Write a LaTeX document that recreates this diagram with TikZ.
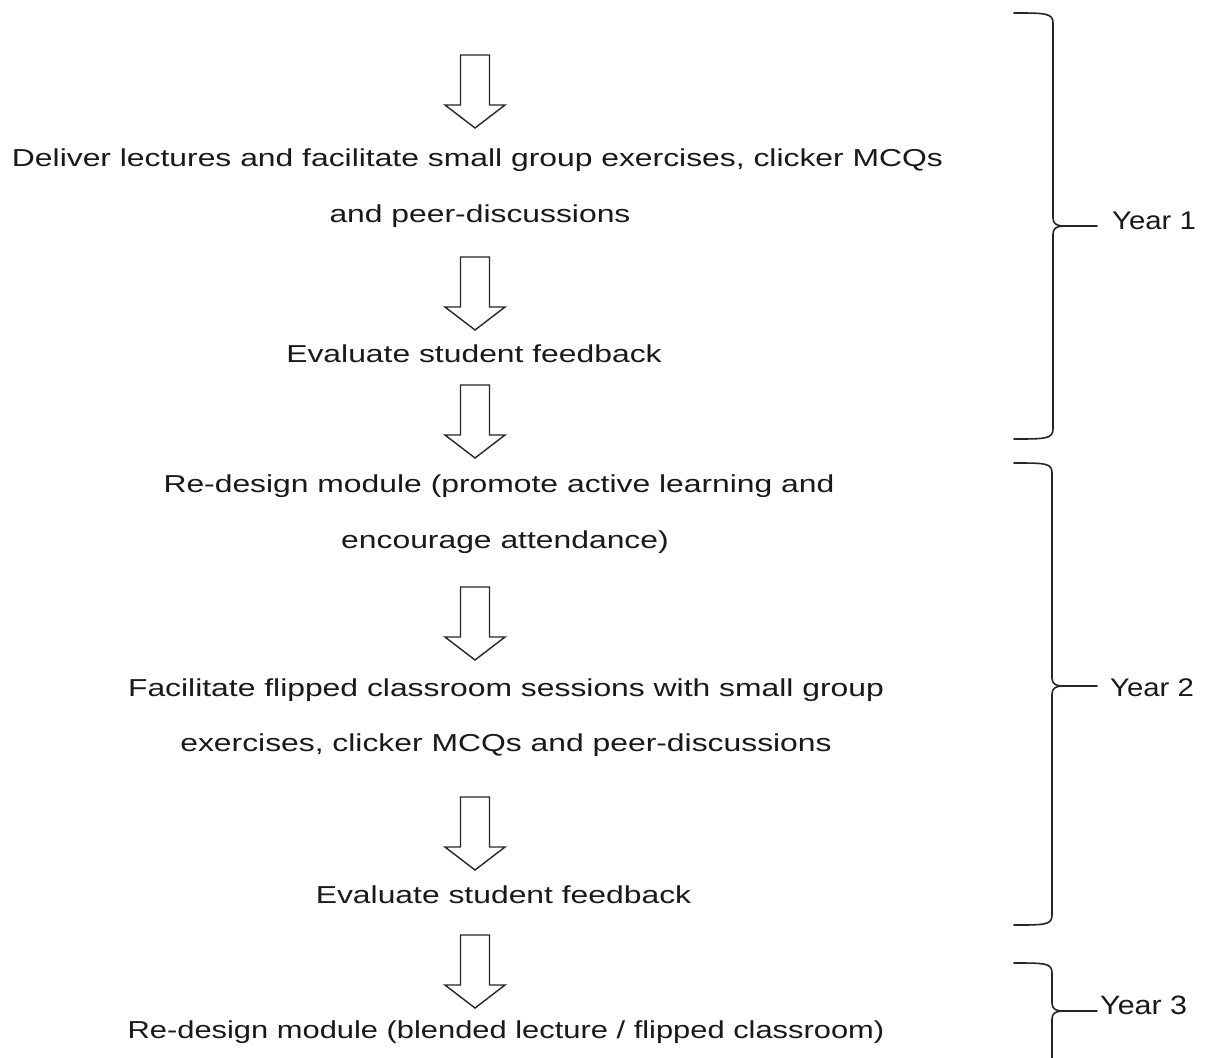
\documentclass[tikz,border=0pt]{standalone}
\usepackage{fontspec}
\setmainfont{Liberation Sans}
\newfontfamily\mainwide{Liberation Sans}[FakeStretch=1.3]
\newfontfamily\lastwide{Liberation Sans}[FakeStretch=1.26]
\newfontfamily\yearwide{Liberation Sans}[FakeStretch=1.15]
\tikzset{
  steptext/.style={font=\mainwide\fontsize{24.5}{29}\selectfont, anchor=base, inner sep=0pt, text=black!90},
  yeartext/.style={font=\yearwide\fontsize{25.5}{30}\selectfont, anchor=base west, inner sep=0pt, text=black!90},
  arrowline/.style={draw=black!85, line width=1.4pt, line join=miter, fill=white},
  braceline/.style={draw=black!85, line width=1.6pt, line cap=round},
  blockarrow/.pic={\path[arrowline] (-14.5,0) -- (14.5,0) -- (14.5,50) -- (30,50) -- (0,73) -- (-30,50) -- (-14.5,50) -- cycle;}
}
\newcommand{\yearbrace}[4]{% x of vertical, top, mid, bottom
  \path[braceline] (1014,#2) .. controls (1045,#2) and (#1,#2) .. (#1,#2+10)
     -- (#1,#3-8) .. controls (#1,#3-2) and (#1+4,#3) .. (#1+11,#3) -- (1097,#3);
  \path[braceline] (#1+11,#3) .. controls (#1+4,#3) and (#1,#3+2) .. (#1,#3+8)
     -- (#1,#4-10) .. controls (#1,#4) and (1045,#4) .. (1014,#4);
}
\begin{document}
\begin{tikzpicture}[x=1pt,y=-1pt]
\useasboundingbox (0,0) rectangle (1209,1057);
\clip (0,0) rectangle (1209,1057);
\fill[white] (0,0) rectangle (1209,1057);

% arrows
\pic (a1) at (475,55) {blockarrow};
\pic (a2) at (475,257) {blockarrow};
\pic (a3) at (475,385) {blockarrow};
\pic (a4) at (475,587) {blockarrow};
\pic (a5) at (475,797) {blockarrow};
\pic (a6) at (475,935) {blockarrow};

% step texts
\node[steptext] (t1) at (477.5,166) {Deliver lectures and facilitate small group exercises, clicker MCQs};
\node[steptext] (t2) at (480,222) {and peer-discussions};
\node[steptext] (t3) at (474,362) {Evaluate student feedback};
\node[steptext] (t4) at (499,492) {Re-design module (promote active learning and};
\node[steptext] (t5) at (505,548) {encourage attendance)};
\node[steptext] (t6) at (506,696) {Facilitate flipped classroom sessions with small group};
\node[steptext] (t7) at (506,751) {exercises, clicker MCQs and peer-discussions};
\node[steptext] (t8) at (503.5,903) {Evaluate student feedback};
\node[steptext, font=\lastwide\fontsize{24.5}{29}\selectfont] (t9) at (506,1038) {Re-design module (blended lecture / flipped classroom)};

% braces
\yearbrace{1053}{13}{226}{439}
\yearbrace{1052}{463}{686}{925}
\yearbrace{1052}{963}{1011}{1100}

\node[yeartext] (y1) at (1112,229) {Year 1};
\node[yeartext] (y2) at (1110,696) {Year 2};
\node[yeartext, font=\yearwide\fontsize{26.5}{30}\selectfont] (y3) at (1100,1014) {Year 3};
\end{tikzpicture}
\end{document}
